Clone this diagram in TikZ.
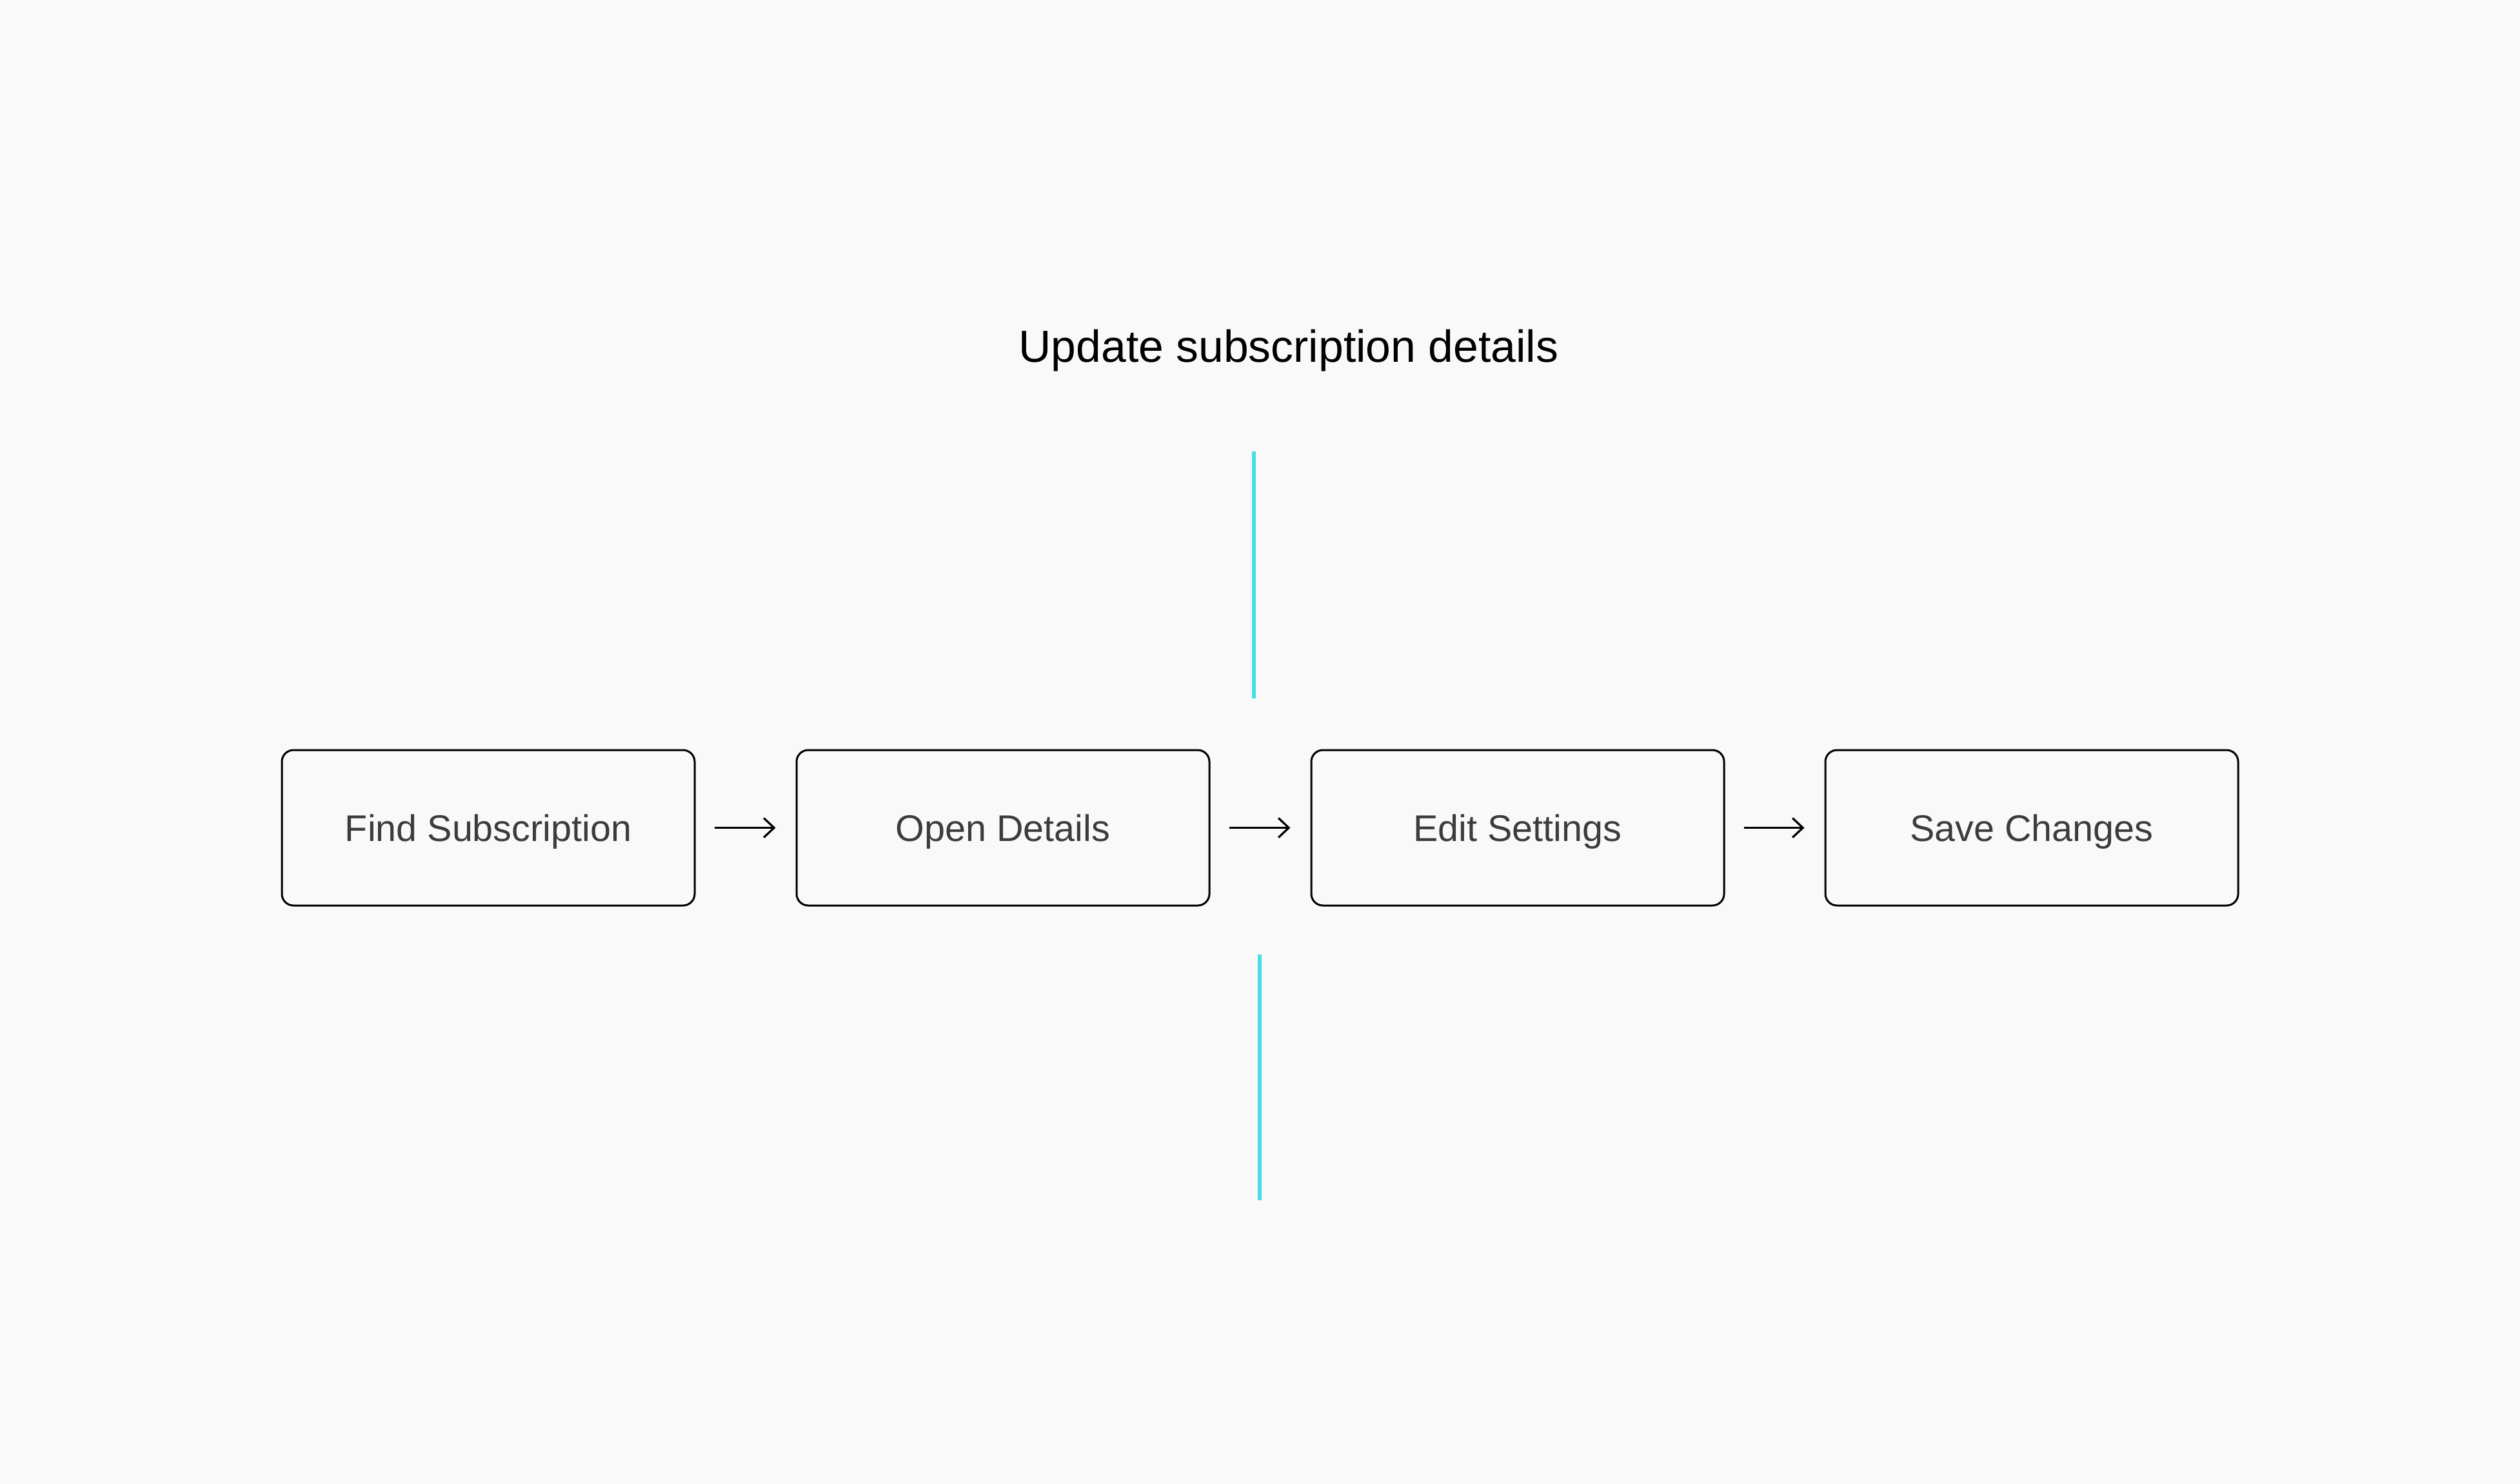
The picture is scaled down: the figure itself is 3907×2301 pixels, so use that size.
\documentclass[tikz,border=0pt]{standalone}
\usepackage{fontspec}
\setmainfont{Liberation Sans}
\usetikzlibrary{arrows.meta}
\definecolor{bgcol}{RGB}{249,249,249}
\definecolor{cyanline}{RGB}{70,222,230}
\definecolor{boxtext}{RGB}{60,60,60}
\tikzset{
  stepbox/.style={draw=black, line width=3pt, rounded corners=18pt, minimum width=640pt, minimum height=241pt, inner sep=0pt, text=boxtext, font=\fontsize{57.5}{66}\selectfont, text height=41pt, text depth=0pt},
  flowarrow/.style={line width=3.2pt, -{Straight Barb[length=16pt,width=30pt,line width=3.2pt]}, shorten <=29pt, shorten >=31pt},
  guideline/.style={draw=cyanline, line width=5.5pt},
  titletext/.style={font=\fontsize{69.7}{80}\selectfont, text=black, inner sep=0pt, anchor=base}
}
\begin{document}
\begin{tikzpicture}[x=1pt,y=-1pt]
\fill[bgcol] (0,0) rectangle (3907,2301);
\useasboundingbox (0,0) rectangle (3907,2301);
\node[titletext] (title) at (1998,561) {Update subscription details};
\node[stepbox] (s1) at (757,1283.5) {Find Subscription};
\node[stepbox] (s2) at (1555,1283.5) {Open Details};
\node[stepbox] (s3) at (2353,1283.5) {Edit Settings};
\node[stepbox] (s4) at (3150,1283.5) {Save Changes};
\draw[flowarrow] (s1) -- (s2);
\draw[flowarrow] (s2) -- (s3);
\draw[flowarrow] (s3) -- (s4);
\coordinate (g1a) at (1944,700);
\coordinate (g1b) at (1944,1083);
\coordinate (g2a) at (1953,1480);
\coordinate (g2b) at (1953,1861);
\draw[guideline] (g1a) -- (g1b);
\draw[guideline] (g2a) -- (g2b);
\end{tikzpicture}
\end{document}
